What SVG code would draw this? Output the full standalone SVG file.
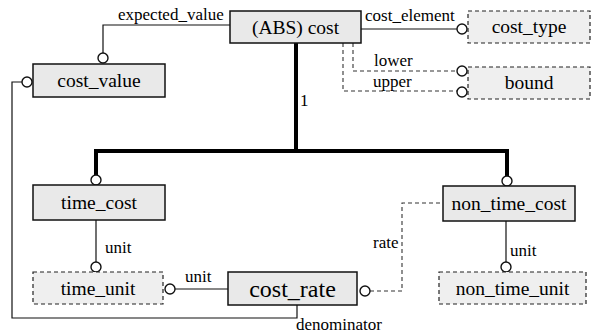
<svg xmlns="http://www.w3.org/2000/svg" width="597" height="335" viewBox="0 0 597 335">
  <style>
    text { font-family: "Liberation Serif", "Times New Roman", Times, serif; fill: #000; }
    .box { fill: #e9e9e9; stroke: #111; stroke-width: 1.5; }
    .dbox { fill: #efefef; stroke: #222; stroke-width: 1.2; stroke-dasharray: 4 3; }
    .name { font-size: 19.5px; text-anchor: middle; }
    .big { font-size: 24px; }
    .lbl { font-size: 17px; }
    .ln { fill: none; stroke: #111; stroke-width: 1.2; }
    .dl { fill: none; stroke: #333; stroke-width: 1.1; stroke-dasharray: 4 3; }
    .thick { fill: none; stroke: #000; stroke-width: 4; }
    .end { fill: #fff; stroke: #111; stroke-width: 1.4; }
  </style>

  <rect width="597" height="335" fill="#fff"/>

  <!-- connectors -->
  <g id="connectors">
    <!-- supertype tree -->
    <polyline class="thick" points="296,43 296,151 96,151 96,176"/>
    <polyline class="thick" points="296,151 507,151 507,177"/>
    <circle class="end" cx="96" cy="180" r="5"/>
    <circle class="end" cx="507" cy="181" r="5"/>
    <text class="lbl" x="300" y="106">1</text>

    <!-- expected_value -->
    <polyline class="ln" points="230,25 103,25 103,53"/>
    <circle class="end" cx="103" cy="58" r="5"/>
    <text class="lbl" x="118" y="20">expected_value</text>

    <!-- cost_element -->
    <line class="ln" x1="361" y1="29" x2="457" y2="29"/>
    <circle class="end" cx="462" cy="29" r="5"/>
    <text class="lbl" x="365" y="21">cost_element</text>

    <!-- lower / upper -->
    <polyline class="dl" points="353,43 353,71 457,71"/>
    <circle class="end" cx="462" cy="71" r="5"/>
    <text class="lbl" x="374" y="66">lower</text>
    <polyline class="dl" points="343,43 343,91 457,91"/>
    <circle class="end" cx="462" cy="92" r="5"/>
    <text class="lbl" x="373" y="87">upper</text>

    <!-- denominator -->
    <polyline class="ln" points="22,82 12,82 12,318 297,318 297,305"/>
    <circle class="end" cx="27" cy="82" r="5"/>
    <text class="lbl" x="296" y="330">denominator</text>

    <!-- time_cost unit -->
    <line class="ln" x1="96" y1="220" x2="96" y2="262"/>
    <circle class="end" cx="96" cy="267" r="5"/>
    <text class="lbl" x="105" y="253">unit</text>

    <!-- cost_rate unit -->
    <line class="ln" x1="175" y1="289" x2="228" y2="289"/>
    <circle class="end" cx="170" cy="289" r="5"/>
    <text class="lbl" x="185" y="282">unit</text>

    <!-- rate -->
    <polyline class="dl" points="370,291 402,291 402,203 443,203"/>
    <circle class="end" cx="365" cy="291" r="5"/>
    <text class="lbl" x="373" y="248">rate</text>

    <!-- non_time_cost unit -->
    <line class="ln" x1="506" y1="221" x2="506" y2="262"/>
    <circle class="end" cx="506" cy="267" r="5"/>
    <text class="lbl" x="510" y="256">unit</text>
  </g>

  <!-- entities -->
  <g id="cost">
    <rect class="box" x="230" y="11" width="131" height="32"/>
    <text class="name" x="295.5" y="34">(ABS) cost</text>
  </g>
  <g id="cost_type">
    <rect class="dbox" x="468" y="11" width="122" height="32"/>
    <text class="name" x="529" y="33">cost_type</text>
  </g>
  <g id="bound">
    <rect class="dbox" x="468" y="67" width="122" height="32"/>
    <text class="name" x="529" y="89">bound</text>
  </g>
  <g id="cost_value">
    <rect class="box" x="33" y="64" width="132" height="33"/>
    <text class="name" x="99" y="87">cost_value</text>
  </g>
  <g id="time_cost">
    <rect class="box" x="33" y="185" width="132" height="35"/>
    <text class="name" x="99" y="209">time_cost</text>
  </g>
  <g id="non_time_cost">
    <rect class="box" x="443" y="186" width="132" height="35"/>
    <text class="name" x="509" y="210">non_time_cost</text>
  </g>
  <g id="time_unit">
    <rect class="dbox" x="33" y="272" width="130" height="32"/>
    <text class="name" x="98" y="295">time_unit</text>
  </g>
  <g id="cost_rate">
    <rect class="box" x="228" y="272" width="129" height="33"/>
    <text class="name big" x="292.5" y="297">cost_rate</text>
  </g>
  <g id="non_time_unit">
    <rect class="dbox" x="439" y="272" width="147" height="32"/>
    <text class="name" x="512.5" y="295">non_time_unit</text>
  </g>
</svg>
